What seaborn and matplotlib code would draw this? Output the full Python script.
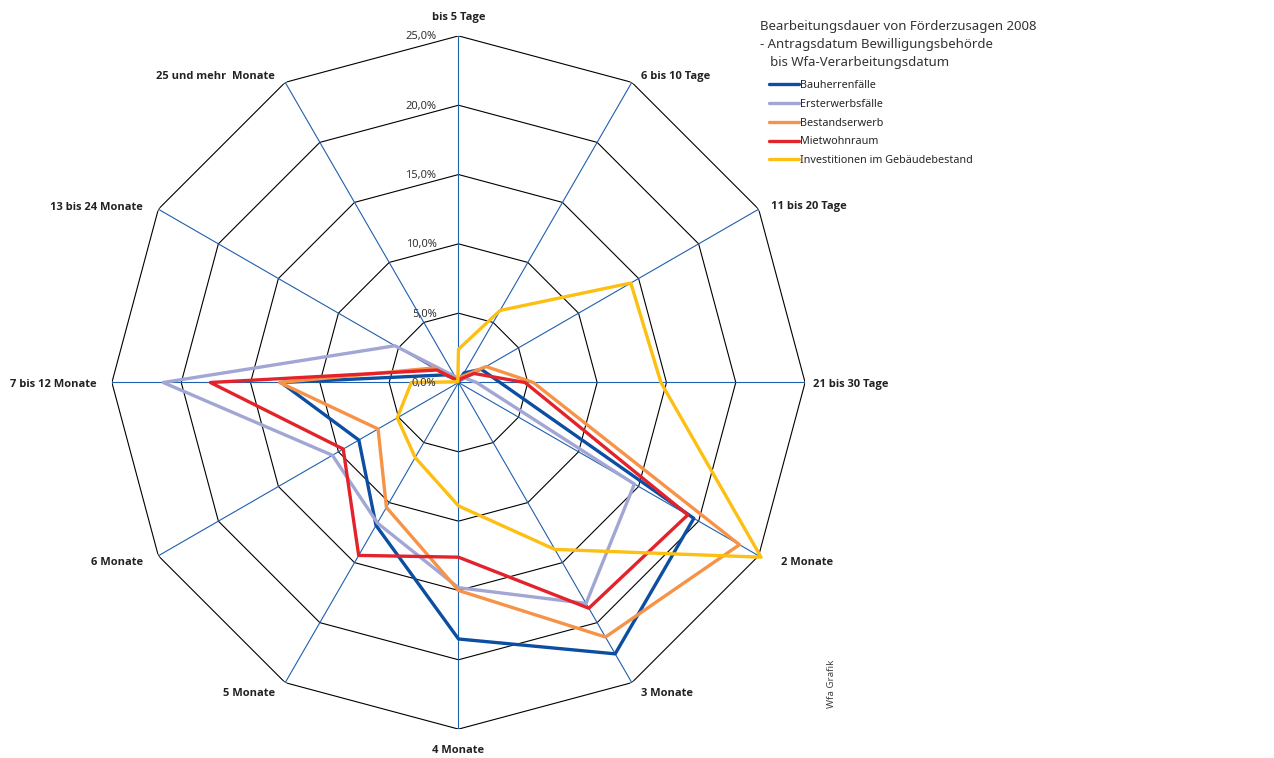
import numpy as np
import pandas as pd
import matplotlib.pyplot as plt
import seaborn as sns

sns.set_theme(style="white")
plt.rcParams['font.family'] = ['Noto Sans', 'DejaVu Sans']

# Kategorien (im Uhrzeigersinn ab oben)
kategorien = ["bis 5 Tage", "6 bis 10 Tage", "11 bis 20 Tage", "21 bis 30 Tage",
              "2 Monate", "3 Monate", "4 Monate", "5 Monate", "6 Monate",
              "7 bis 12 Monate", "13 bis 24 Monate", "25 und mehr  Monate"]

bauherren = [0.1, 0.8, 1.9, 3.0, 19.6, 22.6, 18.5, 11.9, 8.3, 12.8, 1.1, 0.2]
ersterwerb = [0.1, 0.3, 0.6, 1.3, 14.65, 18.4, 14.8, 11.7, 10.5, 21.3, 5.3, 0.5]
bestand = [0.1, 0.5, 2.3, 5.4, 23.4, 21.2, 15.0, 10.4, 6.7, 12.9, 2.1, 0.2]
mietwohn = [0.1, 0.3, 1.3, 4.8, 19.1, 18.8, 12.6, 14.4, 9.6, 17.9, 1.8, 0.2]
investitionen = [2.4, 6.0, 14.35, 14.6, 25.2, 13.9, 8.9, 6.25, 5.1, 3.4, 0.1, 0.1]

serien = ["Bauherrenfälle", "Ersterwerbsfälle", "Bestandserwerb",
          "Mietwohnraum", "Investitionen im Gebäudebestand"]
werte = [bauherren, ersterwerb, bestand, mietwohn, investitionen]
farben = ["#0b4ea2", "#a2a6d4", "#f69347", "#e3232b", "#fdbf12"]

ringe = [0, 5, 10, 15, 20, 25]
ring_labels = ["0,0%", "5,0%", "10,0%", "15,0%", "20,0%", "25,0%"]

n = len(kategorien)
winkel = np.linspace(0, 2 * np.pi, n, endpoint=False)
winkel_zu = np.append(winkel, 2 * np.pi)

rows = []
for name, vals in zip(serien, werte):
    for i, (w, v) in enumerate(zip(winkel_zu, vals + vals[:1])):
        rows.append({"winkel": w, "wert": v, "serie": name, "idx": i})
df = pd.DataFrame(rows)

fig = plt.figure(figsize=(12.74, 7.58), dpi=100)
ax = fig.add_axes([(458.5 - 346.6) / 1274, (375.5 - 346.6) / 758,
                   693.2 / 1274, 693.2 / 758], projection="polar")
ax.set_theta_zero_location("N")
ax.set_theta_direction(-1)
ax.set_ylim(0, 25)
ax.grid(False)
ax.spines["polar"].set_visible(False)
ax.set_xticks([])
ax.set_yticks([])
ax.set_facecolor("white")

# Netz: Polygone und Speichen
for r in ringe[1:]:
    ax.plot(winkel_zu, [r] * (n + 1), color="black", lw=0.8, zorder=1, snap=False)
for w in winkel:
    ax.plot([w, w], [0, 25], color="#1f5fae", lw=0.8, zorder=1, snap=False)

sns.lineplot(data=df, x="winkel", y="wert", hue="serie", hue_order=serien,
             palette=dict(zip(serien, farben)), sort=False, estimator=None,
             units="serie", lw=2.4, ax=ax, clip_on=False, zorder=3)
ax.set_xlabel("")
ax.set_ylabel("")

# Ring-Beschriftung
for r, lab in zip(ringe, ring_labels):
    ax.annotate(lab, xy=(0, r), xytext=(-22, -1), textcoords="offset pixels",
                ha="right", va="center", fontsize=8, color="#333333", zorder=5)

# Kategorie-Beschriftung
versatz = [(0, 18), (9, 6), (12, 3), (8, -2), (22, -7), (9, -11),
           (0, -21), (-10, -11), (-15, -7), (-15, -2), (-15, 2), (-10, 6)]
for w, lab, (dx, dy) in zip(winkel, kategorien, versatz):
    ha = "center" if dx == 0 else ("left" if dx > 0 else "right")
    ax.annotate(lab, xy=(w, 25), xytext=(dx, dy), textcoords="offset pixels",
                ha=ha, va="center", fontsize=8, fontweight="bold", color="#222222",
                family=["Open Sans", "DejaVu Sans"])

fig.text(760 / 1274, 1 - 20 / 758,
         "Bearbeitungsdauer von Förderzusagen 2008\n- Antragsdatum Bewilligungsbehörde\n   bis Wfa-Verarbeitungsdatum",
         ha="left", va="top", fontsize=9.5, color="#333333", linespacing=1.48)

handles, labels = ax.get_legend_handles_labels()
ax.legend(handles, labels, loc="upper left", bbox_to_anchor=(769 / 1274, 1 - 80 / 758),
          bbox_transform=fig.transFigure, frameon=False, fontsize=7.8,
          handlelength=2.8, handletextpad=0.1, labelspacing=0.72,
          borderaxespad=0, borderpad=0)

fig.text(832 / 1274, 1 - 684 / 758, "Wfa Grafik", rotation=90, ha="center",
         va="center", fontsize=7, color="#444444")

fig.savefig("out.png", dpi=100, facecolor="white")
